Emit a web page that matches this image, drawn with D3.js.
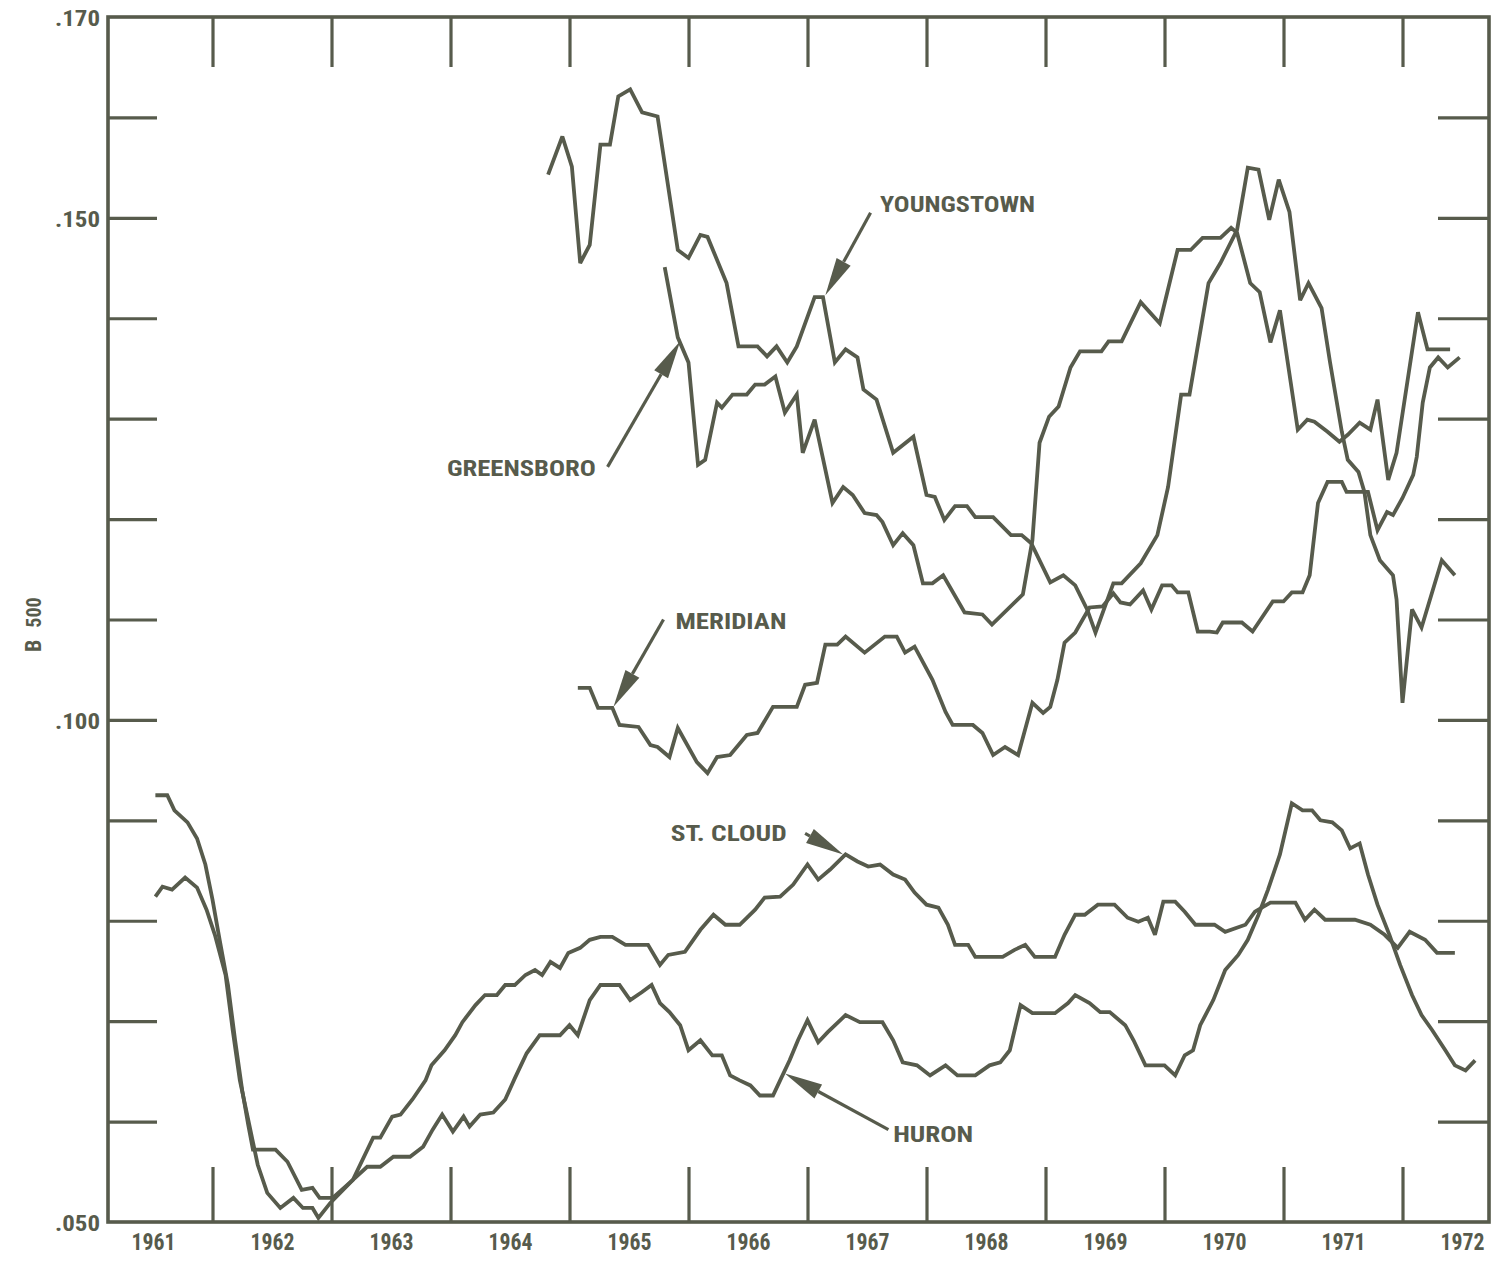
<!DOCTYPE html>
<html>
<head>
<meta charset="utf-8">
<script src="https://cdn.jsdelivr.net/npm/d3@7"></script>
<style>
  html, body { margin: 0; padding: 0; background: #ffffff; }
  svg { display: block; }
  text { font-family: "Liberation Sans Narrow", "Roboto Condensed", "Liberation Sans", Arial, sans-serif; font-weight: bold; }
</style>
</head>
<body>
<svg id="chart" width="1508" height="1262"></svg>
<script>
// ---------------- data (year, B500) ----------------
const yearLabels = [1961,1962,1963,1964,1965,1966,1967,1968,1969,1970,1971,1972];
const tickYears = [1961.5,1962.5,1963.5,1964.5,1965.5,1966.5,1967.5,1968.5,1969.5,1970.5,1971.5];
const yLabelValues = [0.05, 0.10, 0.15, 0.17];
const yTickValues = [0.06,0.07,0.08,0.09,0.10,0.11,0.12,0.13,0.14,0.15,0.16];

const youngstown = [[1964.32,.1543],[1964.44,.1581],[1964.52,.1551],[1964.59,.1455],[1964.67,.1473],[1964.76,.1573],[1964.84,.1573],[1964.91,.1621],[1965.01,.1628],[1965.11,.1605],[1965.24,.1601],[1965.41,.1468],[1965.50,.1460],[1965.60,.1483],[1965.66,.1481],[1965.82,.1435],[1965.92,.1372],[1966.08,.1372],[1966.16,.1362],[1966.24,.1372],[1966.33,.1356],[1966.41,.1372],[1966.56,.1421],[1966.63,.1421],[1966.73,.1356],[1966.82,.1369],[1966.92,.1361],[1966.97,.1329],[1967.08,.1319],[1967.22,.1266],[1967.39,.1282],[1967.50,.1224],[1967.57,.1222],[1967.65,.1199],[1967.74,.1213],[1967.84,.1213],[1967.91,.1202],[1968.06,.1202],[1968.21,.1184],[1968.30,.1184],[1968.38,.1176],[1968.54,.1137],[1968.65,.1144],[1968.75,.1134],[1968.85,.1110],[1968.92,.1087],[1969.07,.1136],[1969.14,.1136],[1969.30,.1156],[1969.44,.1184],[1969.53,.1232],[1969.64,.1324],[1969.71,.1324],[1969.87,.1435],[1969.97,.1455],[1970.11,.1488],[1970.20,.1550],[1970.29,.1548],[1970.38,.1498],[1970.46,.1538],[1970.55,.1506],[1970.64,.1418],[1970.71,.1435],[1970.82,.1410],[1970.89,.1357],[1970.99,.1287],[1971.04,.1259],[1971.13,.1247],[1971.18,.1227],[1971.23,.1184],[1971.31,.1159],[1971.42,.1144],[1971.45,.1120],[1971.50,.1017],[1971.58,.1110],[1971.66,.1092],[1971.83,.1159],[1971.94,.1144]];

const greensboro = [[1965.30,.1451],[1965.41,.1381],[1965.50,.1356],[1965.58,.1254],[1965.64,.1259],[1965.74,.1316],[1965.78,.1311],[1965.87,.1324],[1965.99,.1324],[1966.06,.1334],[1966.14,.1334],[1966.23,.1342],[1966.31,.1306],[1966.41,.1324],[1966.46,.1266],[1966.56,.1299],[1966.71,.1216],[1966.80,.1232],[1966.88,.1224],[1966.98,.1206],[1967.08,.1204],[1967.13,.1197],[1967.22,.1174],[1967.30,.1186],[1967.39,.1174],[1967.47,.1136],[1967.55,.1136],[1967.64,.1144],[1967.82,.1107],[1967.97,.1105],[1968.05,.1095],[1968.31,.1125],[1968.39,.1179],[1968.45,.1276],[1968.53,.1302],[1968.61,.1312],[1968.71,.1351],[1968.79,.1367],[1968.97,.1367],[1969.03,.1377],[1969.14,.1377],[1969.30,.1416],[1969.46,.1395],[1969.61,.1468],[1969.72,.1468],[1969.82,.1480],[1969.97,.1480],[1970.06,.1490],[1970.11,.1485],[1970.22,.1435],[1970.30,.1426],[1970.39,.1376],[1970.47,.1408],[1970.62,.1289],[1970.70,.1299],[1970.76,.1297],[1970.87,.1287],[1970.97,.1277],[1971.04,.1284],[1971.14,.1296],[1971.23,.1289],[1971.29,.1319],[1971.38,.1239],[1971.45,.1266],[1971.63,.1406],[1971.71,.1369],[1971.90,.1369]];

const meridian = [[1964.57,.1032],[1964.67,.1032],[1964.74,.1012],[1964.86,.1012],[1964.92,.0995],[1965.08,.0993],[1965.18,.0975],[1965.24,.0973],[1965.34,.0963],[1965.41,.0992],[1965.57,.0958],[1965.66,.0947],[1965.74,.0963],[1965.85,.0965],[1965.99,.0985],[1966.08,.0987],[1966.21,.1013],[1966.41,.1013],[1966.48,.1035],[1966.58,.1037],[1966.65,.1075],[1966.75,.1075],[1966.82,.1083],[1966.98,.1067],[1967.15,.1083],[1967.25,.1083],[1967.32,.1067],[1967.40,.1073],[1967.55,.1040],[1967.66,.1008],[1967.72,.0995],[1967.89,.0995],[1967.97,.0987],[1968.06,.0965],[1968.16,.0973],[1968.27,.0965],[1968.39,.1017],[1968.48,.1007],[1968.54,.1013],[1968.60,.1040],[1968.66,.1077],[1968.75,.1087],[1968.87,.1112],[1968.98,.1113],[1969.07,.1126],[1969.13,.1117],[1969.21,.1115],[1969.32,.1129],[1969.39,.1110],[1969.48,.1134],[1969.56,.1134],[1969.61,.1127],[1969.70,.1127],[1969.78,.1088],[1969.88,.1088],[1969.94,.1087],[1969.99,.1097],[1970.15,.1097],[1970.24,.1088],[1970.41,.1118],[1970.50,.1118],[1970.57,.1127],[1970.66,.1127],[1970.72,.1144],[1970.79,.1216],[1970.87,.1237],[1970.99,.1237],[1971.03,.1227],[1971.21,.1227],[1971.29,.1189],[1971.37,.1207],[1971.42,.1204],[1971.50,.1221],[1971.59,.1244],[1971.62,.1262],[1971.67,.1316],[1971.73,.1351],[1971.80,.1361],[1971.88,.1351],[1971.98,.1361]];

const stCloud = [[1961.02,.0824],[1961.08,.0834],[1961.16,.0831],[1961.27,.0843],[1961.37,.0833],[1961.45,.0811],[1961.52,.0786],[1961.61,.0746],[1961.67,.0691],[1961.73,.0641],[1961.80,.0602],[1961.88,.0557],[1961.96,.0529],[1962.07,.0514],[1962.18,.0524],[1962.26,.0514],[1962.34,.0514],[1962.39,.0504],[1962.49,.0519],[1962.68,.0542],[1962.85,.0584],[1962.91,.0584],[1963.01,.0605],[1963.08,.0607],[1963.18,.0622],[1963.29,.0641],[1963.34,.0656],[1963.45,.0671],[1963.54,.0686],[1963.60,.0699],[1963.71,.0716],[1963.79,.0726],[1963.89,.0726],[1963.96,.0736],[1964.04,.0736],[1964.13,.0746],[1964.21,.0751],[1964.27,.0746],[1964.34,.0759],[1964.42,.0753],[1964.49,.0768],[1964.59,.0773],[1964.67,.0781],[1964.76,.0784],[1964.86,.0784],[1964.97,.0776],[1965.16,.0776],[1965.26,.0756],[1965.33,.0766],[1965.47,.0769],[1965.60,.0791],[1965.71,.0806],[1965.81,.0796],[1965.93,.0796],[1966.06,.0811],[1966.14,.0823],[1966.27,.0824],[1966.38,.0836],[1966.50,.0856],[1966.59,.0841],[1966.69,.0851],[1966.82,.0866],[1966.92,.0859],[1967.01,.0854],[1967.11,.0856],[1967.22,.0846],[1967.32,.0841],[1967.40,.0828],[1967.50,.0816],[1967.60,.0813],[1967.68,.0796],[1967.74,.0776],[1967.85,.0776],[1967.91,.0764],[1968.03,.0764],[1968.14,.0764],[1968.24,.0771],[1968.33,.0776],[1968.41,.0764],[1968.58,.0764],[1968.66,.0786],[1968.75,.0806],[1968.83,.0806],[1968.94,.0816],[1969.08,.0816],[1969.19,.0803],[1969.28,.0799],[1969.36,.0803],[1969.42,.0786],[1969.49,.0819],[1969.59,.0819],[1969.67,.0809],[1969.76,.0796],[1969.92,.0796],[1970.01,.0789],[1970.18,.0796],[1970.26,.0809],[1970.39,.0818],[1970.51,.0818],[1970.60,.0818],[1970.68,.0801],[1970.76,.0811],[1970.85,.0801],[1971.10,.0801],[1971.23,.0796],[1971.35,.0786],[1971.46,.0773],[1971.56,.0789],[1971.69,.0781],[1971.79,.0768],[1971.94,.0768]];

const huron = [[1961.02,.0925],[1961.12,.0925],[1961.18,.0910],[1961.29,.0898],[1961.37,.0882],[1961.44,.0856],[1961.50,.0821],[1961.56,.0781],[1961.63,.0736],[1961.69,.0681],[1961.75,.0631],[1961.80,.0597],[1961.84,.0572],[1962.03,.0572],[1962.13,.0560],[1962.25,.0532],[1962.34,.0534],[1962.40,.0524],[1962.51,.0524],[1962.68,.0542],[1962.80,.0555],[1962.91,.0555],[1963.02,.0565],[1963.16,.0565],[1963.27,.0575],[1963.35,.0592],[1963.43,.0607],[1963.52,.0590],[1963.61,.0605],[1963.66,.0595],[1963.75,.0607],[1963.86,.0609],[1963.96,.0622],[1964.04,.0643],[1964.14,.0668],[1964.25,.0686],[1964.42,.0686],[1964.50,.0696],[1964.57,.0686],[1964.67,.0721],[1964.76,.0736],[1964.92,.0736],[1965.01,.0721],[1965.11,.0729],[1965.19,.0736],[1965.26,.0718],[1965.34,.0709],[1965.43,.0696],[1965.50,.0671],[1965.60,.0681],[1965.70,.0666],[1965.78,.0666],[1965.85,.0646],[1965.93,.0641],[1966.02,.0636],[1966.10,.0626],[1966.21,.0626],[1966.27,.0641],[1966.35,.0661],[1966.42,.0681],[1966.50,.0701],[1966.59,.0679],[1966.67,.0689],[1966.82,.0706],[1966.94,.0699],[1967.13,.0699],[1967.22,.0681],[1967.30,.0659],[1967.42,.0656],[1967.53,.0646],[1967.66,.0656],[1967.76,.0646],[1967.91,.0646],[1968.03,.0656],[1968.12,.0659],[1968.20,.0671],[1968.29,.0716],[1968.39,.0708],[1968.58,.0708],[1968.69,.0718],[1968.75,.0726],[1968.87,.0718],[1968.96,.0709],[1969.04,.0709],[1969.17,.0696],[1969.24,.0681],[1969.34,.0656],[1969.50,.0656],[1969.59,.0646],[1969.67,.0666],[1969.74,.0671],[1969.80,.0696],[1969.91,.0721],[1970.01,.0751],[1970.12,.0766],[1970.20,.0781],[1970.29,.0806],[1970.37,.0831],[1970.47,.0866],[1970.57,.0917],[1970.66,.0910],[1970.74,.0910],[1970.81,.0900],[1970.91,.0898],[1970.99,.0890],[1971.06,.0872],[1971.14,.0877],[1971.21,.0846],[1971.29,.0816],[1971.39,.0786],[1971.48,.0756],[1971.58,.0726],[1971.66,.0706],[1971.75,.0691],[1971.86,.0671],[1971.94,.0656],[1972.03,.0651],[1972.11,.0661]];

const seriesNames = ["YOUNGSTOWN","GREENSBORO","MERIDIAN","ST. CLOUD","HURON"];

// ---------------- layout / styles ----------------
const INK = "#575b4c";
const W = 1508, H = 1262;
const frame = {left: 108, right: 1489, top: 17, bottom: 1222};

const x = d3.scaleLinear().domain([1961, 1972]).range([153, 1462]);
const y = d3.scaleLinear().domain([0.05, 0.17]).range([frame.bottom, frame.top]);

const svg = d3.select("#chart");
svg.append("rect").attr("width", W).attr("height", H).attr("fill", "#ffffff");

// frame
svg.append("rect")
  .attr("x", frame.left).attr("y", frame.top)
  .attr("width", frame.right - frame.left).attr("height", frame.bottom - frame.top)
  .attr("fill", "none").attr("stroke", INK).attr("stroke-width", 3.6);

function styleAxis(g) {
  g.select(".domain").remove();
  g.selectAll(".tick line").attr("stroke", INK).attr("stroke-width", 3.2);
  g.selectAll(".tick text").attr("fill", INK);
}

// top ticks (hanging down)
svg.append("g").attr("transform", `translate(0,${frame.top})`)
  .call(d3.axisBottom(x).tickValues(tickYears).tickSize(50).tickFormat(""))
  .call(styleAxis);
// bottom ticks (pointing up)
svg.append("g").attr("transform", `translate(0,${frame.bottom})`)
  .call(d3.axisTop(x).tickValues(tickYears).tickSize(55).tickFormat(""))
  .call(styleAxis);
// left ticks
svg.append("g").attr("transform", `translate(${frame.left},0)`)
  .call(d3.axisRight(y).tickValues(yTickValues).tickSize(49).tickFormat(""))
  .call(styleAxis);
// right ticks
svg.append("g").attr("transform", `translate(${frame.right},0)`)
  .call(d3.axisLeft(y).tickValues(yTickValues).tickSize(51).tickFormat(""))
  .call(styleAxis);

// year labels
const gx = svg.append("g").attr("transform", `translate(0,${frame.bottom})`)
  .call(d3.axisBottom(x).tickValues(yearLabels).tickSize(0).tickPadding(12).tickFormat(d3.format("d")))
  .call(styleAxis);
gx.selectAll(".tick text")
  .attr("font-size", 23).attr("dy", "0.71em")
  .attr("textLength", 44).attr("lengthAdjust", "spacingAndGlyphs");

// y labels
const gy = svg.append("g").attr("transform", `translate(${frame.left},0)`)
  .call(d3.axisLeft(y).tickValues(yLabelValues).tickSize(0).tickPadding(8)
    .tickFormat(d => d3.format(".3f")(d).replace(/^0/, "")))
  .call(styleAxis);
gy.selectAll(".tick text")
  .attr("font-size", 22).attr("dy", "0.40em")
  .attr("textLength", 45).attr("lengthAdjust", "spacingAndGlyphs");

// y title  B 500
const yt = svg.append("text")
  .attr("transform", "translate(41,652) rotate(-90)")
  .attr("fill", INK).attr("font-size", 22).attr("text-anchor", "start");
yt.append("tspan").text("B");
yt.append("tspan").attr("dx", 12).attr("font-size", 20).text("500");

// lines
const line = d3.line().x(d => x(d[0])).y(d => y(d[1]));
const allSeries = [youngstown, greensboro, meridian, stCloud, huron];
svg.append("g").selectAll("path").data(allSeries).join("path")
  .attr("d", line)
  .attr("fill", "none").attr("stroke", INK).attr("stroke-width", 3.8)
  .attr("stroke-linejoin", "miter").attr("stroke-miterlimit", 3);

// annotations (label anchor and arrow in data coordinates)
const annotations = [
  {name: seriesNames[0], label: [1967.11, .1506], width: 155, tail: [1967.03, .1505], tip: [1966.65, .1423]},
  {name: seriesNames[1], label: [1963.47, .1243], width: 149, tail: [1964.82, .1252], tip: [1965.43, .1377]},
  {name: seriesNames[2], label: [1965.39, .1091], width: 111, tail: [1965.29, .1100], tip: [1964.87, .1013]},
  {name: seriesNames[3], label: [1965.35, .0879], width: 116, tail: [1966.48, .0887], tip: [1966.80, .0866]},
  {name: seriesNames[4], label: [1967.22, .0580], width: 80,  tail: [1967.18, .0592], tip: [1966.31, .0648]}
];

const ga = svg.append("g");
annotations.forEach(a => {
  ga.append("text")
    .attr("x", x(a.label[0])).attr("y", y(a.label[1]))
    .attr("fill", INK).attr("font-size", 22)
    .attr("textLength", a.width).attr("lengthAdjust", "spacingAndGlyphs")
    .text(a.name);
  const tx = x(a.tail[0]), ty = y(a.tail[1]);
  const px = x(a.tip[0]), py = y(a.tip[1]);
  const dx = px - tx, dy = py - ty, L = Math.hypot(dx, dy);
  const ux = dx / L, uy = dy / L;
  const headLen = Math.min(38, L), headHalf = 8;
  const bx = px - ux * headLen, by = py - uy * headLen;
  if (L > headLen + 1) {
    ga.append("line").attr("x1", tx).attr("y1", ty).attr("x2", bx).attr("y2", by)
      .attr("stroke", INK).attr("stroke-width", 3.2);
  }
  const pts = [[px, py], [bx - uy * headHalf, by + ux * headHalf], [bx + uy * headHalf, by - ux * headHalf]];
  ga.append("polygon").attr("points", pts.map(p => p.join(",")).join(" ")).attr("fill", INK);
});
</script>
</body>
</html>
